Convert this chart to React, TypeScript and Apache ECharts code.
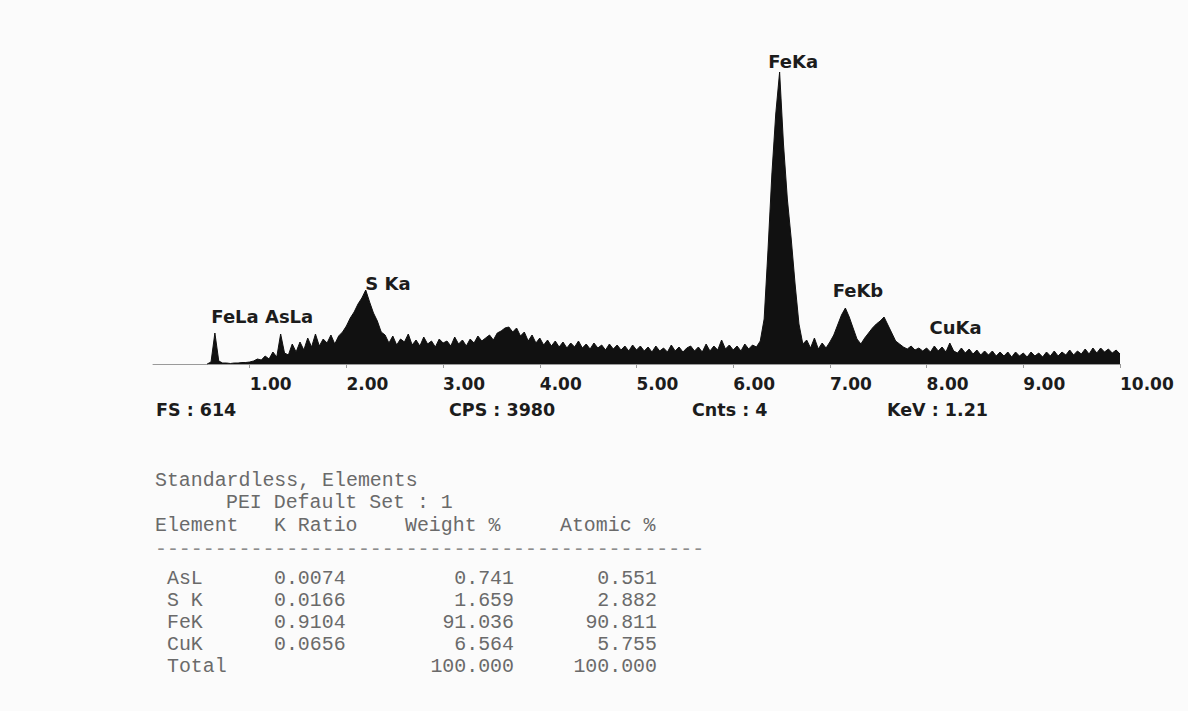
import React, { useEffect, useRef } from "react";
import * as echarts from "echarts";

// Spectrum channels: first channel energy and channel width (keV)
const CHANNEL_START_KEV = 0.56;
const CHANNEL_WIDTH_KEV = 0.04;

// Counts, one value per channel (0.56 keV .. 10.00 keV)
const counts: number[] = [
  // 0.56 - 0.96
  0, 4, 62, 6, 2, 2, 1, 2, 2, 3, 3,
  // 1.00 - 1.96
  4, 6, 10, 8, 16, 10, 24, 14, 60, 22, 18, 40, 24, 44, 28, 52, 34, 60, 36, 50, 42, 58, 40, 56, 64,
  // 2.00 - 2.96
  76, 92, 104, 120, 132, 148, 124, 102, 86, 64, 58, 42, 56, 38, 50, 44, 60, 38, 48, 36, 54, 40, 46, 34, 50,
  // 3.00 - 3.96
  42, 46, 36, 54, 40, 48, 36, 50, 42, 56, 46, 52, 58, 48, 62, 66, 72, 74, 64, 72, 56, 64, 46, 58, 42,
  // 4.00 - 4.96
  52, 38, 48, 36, 46, 34, 44, 32, 42, 34, 46, 32, 40, 30, 42, 32, 38, 28, 40, 30, 38, 28, 36, 26, 38,
  // 5.00 - 5.96
  28, 36, 26, 34, 24, 36, 26, 32, 24, 38, 26, 34, 24, 32, 36, 26, 34, 24, 40, 26, 36, 28, 48, 30, 38,
  // 6.00 - 6.96
  28, 36, 26, 40, 30, 38, 34, 46, 90, 228, 380, 500, 584, 440, 330, 250, 160, 80, 40, 48, 32, 52, 30, 42, 32,
  // 7.00 - 7.96
  44, 58, 78, 98, 112, 94, 72, 50, 40, 52, 62, 72, 80, 86, 94, 78, 62, 46, 40, 34, 30, 36, 28, 32, 26,
  // 8.00 - 8.96
  32, 24, 36, 26, 34, 24, 42, 26, 22, 32, 22, 30, 20, 28, 18, 26, 18, 26, 16, 24, 16, 24, 14, 24, 16,
  // 9.00 - 10.00
  22, 14, 24, 16, 22, 14, 24, 16, 26, 16, 24, 18, 28, 18, 26, 20, 30, 20, 32, 22, 32, 24, 30, 22, 28, 20,
];

// Peak annotations (label text, energy keV, count level of label centre)
const peakNames = ["FeLa AsLa", "S Ka", "FeKa", "FeKb", "CuKa"];
const peakKeV = [1.13, 2.43, 6.62, 7.29, 8.3];
const peakLevel = [96, 162, 606, 148, 74];

// Footer readouts
const footerTexts = ["FS : 614", "CPS : 3980", "Cnts : 4", "KeV : 1.21"];

// Quantification table
const tableTitle = "Standardless, Elements";
const tableSubtitle = "PEI Default Set : 1";
const tableHeaders = ["Element", "K Ratio", "Weight %", "Atomic %"];
const elements = ["AsL", "S K", "FeK", "CuK", "Total"];
const kRatios = ["0.0074", "0.0166", "0.9104", "0.0656", ""];
const weightPct = ["0.741", "1.659", "91.036", "6.564", "100.000"];
const atomicPct = ["0.551", "2.882", "90.811", "5.755", "100.000"];

const AXIS_MIN = 0;
const AXIS_MAX = 10;
const AXIS_INTERVAL = 1;
const FULL_SCALE = 614;

export default function App() {
  const ref = useRef<HTMLDivElement>(null);

  useEffect(() => {
    if (!ref.current) return;
    const chart = echarts.init(ref.current, undefined, { renderer: "svg" });

    const spectrum = counts.map((c, i) => [
      +(CHANNEL_START_KEV + i * CHANNEL_WIDTH_KEV).toFixed(2),
      c,
    ]);

    const mono = "'Liberation Mono', 'DejaVu Sans Mono', monospace";
    const sans = "'DejaVu Sans', Verdana, sans-serif";
    const tableColor = "#6a6a6a";
    const tableFont = 19.9;

    const t = (
      text: string,
      x: number,
      y: number,
      opts: { align?: string; font?: string; size?: number; weight?: string; color?: string } = {}
    ) => ({
      type: "text",
      x,
      y,
      silent: true,
      style: {
        text,
        fontFamily: opts.font || mono,
        fontSize: opts.size || tableFont,
        fontWeight: opts.weight || "normal",
        fill: opts.color || tableColor,
        align: opts.align || "left",
        textAlign: opts.align || "left",
        verticalAlign: "middle",
        textVerticalAlign: "middle",
      },
    });

    const graphics: any[] = [];
    // footer readouts
    const footerX = [156, 449, 692, 887];
    footerTexts.forEach((s, i) =>
      graphics.push(t(s, footerX[i], 410, { font: sans, size: 17.5, weight: "bold", color: "#1c1c1c" }))
    );
    // table
    graphics.push(t(tableTitle, 155, 480));
    graphics.push(t(tableSubtitle, 226, 502));
    const headerX = [155, 274, 405, 560];
    tableHeaders.forEach((h, i) => graphics.push(t(h, headerX[i], 525)));
    graphics.push(t("-".repeat(46), 155, 549, { color: "#8c8c8c" }));
    const rowY = [578, 600, 622, 644, 666];
    elements.forEach((el, i) => {
      graphics.push(t(el, 167, rowY[i]));
      if (kRatios[i]) graphics.push(t(kRatios[i], 274, rowY[i]));
      graphics.push(t(weightPct[i], 514, rowY[i], { align: "right" }));
      graphics.push(t(atomicPct[i], 657, rowY[i], { align: "right" }));
    });

    chart.setOption({
      animation: false,
      backgroundColor: "#fbfbfb",
      grid: { left: 153, right: 68, top: 57, bottom: 342, containLabel: false },
      xAxis: {
        type: "value",
        min: AXIS_MIN,
        max: AXIS_MAX,
        interval: AXIS_INTERVAL,
        splitLine: { show: false },
        axisLine: { show: true, lineStyle: { color: "#9a9a9a", width: 1 } },
        axisTick: { show: true, length: 4, lineStyle: { color: "#9a9a9a" } },
        axisLabel: {
          showMinLabel: false,
          showMaxLabel: true,
          align: "left",
          margin: 6,
          fontFamily: sans,
          fontSize: 17,
          fontWeight: "bold",
          color: "#1c1c1c",
          formatter: (v: number) => v.toFixed(2),
        },
      },
      yAxis: {
        type: "value",
        min: -10,
        max: FULL_SCALE,
        show: false,
        splitLine: { show: false },
      },
      series: [
        {
          type: "line",
          data: spectrum,
          showSymbol: false,
          symbol: "none",
          lineStyle: { color: "#111", width: 1 },
          areaStyle: { color: "#111", opacity: 1 },
          markPoint: {
            symbol: "circle",
            symbolSize: 0,
            itemStyle: { color: "rgba(0,0,0,0)" },
            label: {
              show: true,
              position: "inside",
              fontFamily: sans,
              fontSize: 18,
              fontWeight: "bold",
              color: "#1c1c1c",
              formatter: (p: any) => p.name,
            },
            data: peakNames.map((n, i) => ({ name: n, coord: [peakKeV[i], peakLevel[i]] })),
          },
        },
      ],
      graphic: graphics,
    });

    return () => chart.dispose();
  }, []);

  return (
    <div
      ref={ref}
      style={{ position: "absolute", left: 0, top: 0, width: 1188, height: 711, background: "#fbfbfb" }}
    />
  );
}
